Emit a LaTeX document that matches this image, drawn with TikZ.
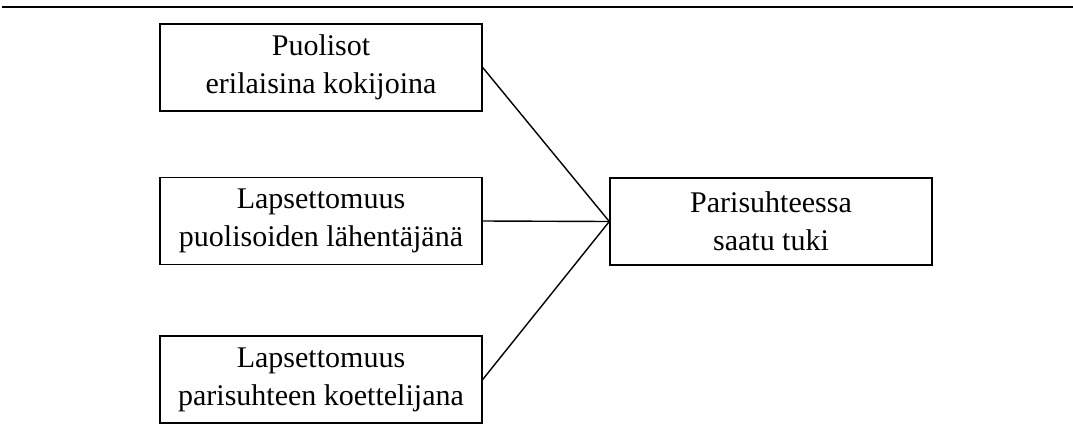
\documentclass[tikz,border=0pt]{standalone}
\usepackage{fontspec}
\setmainfont{Liberation Serif}
\begin{document}
\begin{tikzpicture}[x=1pt,y=-1pt,
  box/.style={draw,line width=1.4pt,minimum width=322pt,minimum height=87pt,inner sep=0pt,align=center,
    font=\fontsize{30}{38}\selectfont},
  conn/.style={line width=1.4pt}]
\useasboundingbox (0,0) rectangle (1073,437);
\draw[line width=2.6pt] (2,7) -- (1073,7);
\node[box] (a) at (321,67.5) {Puolisot\\erilaisina kokijoina};
\node[box] (b) at (321,221) {Lapsettomuus\\puolisoiden lähentäjänä};
\node[box] (c) at (321,379.5) {Lapsettomuus\\parisuhteen koettelijana};
\node[box] (d) at (771,221.5) {Parisuhteessa\\saatu tuki};
\draw[conn] (a.east) -- (d.west);
\draw[conn] (b.east) -- (d.west);
\draw[conn] (c.east) -- (d.west);
\end{tikzpicture}
\end{document}
